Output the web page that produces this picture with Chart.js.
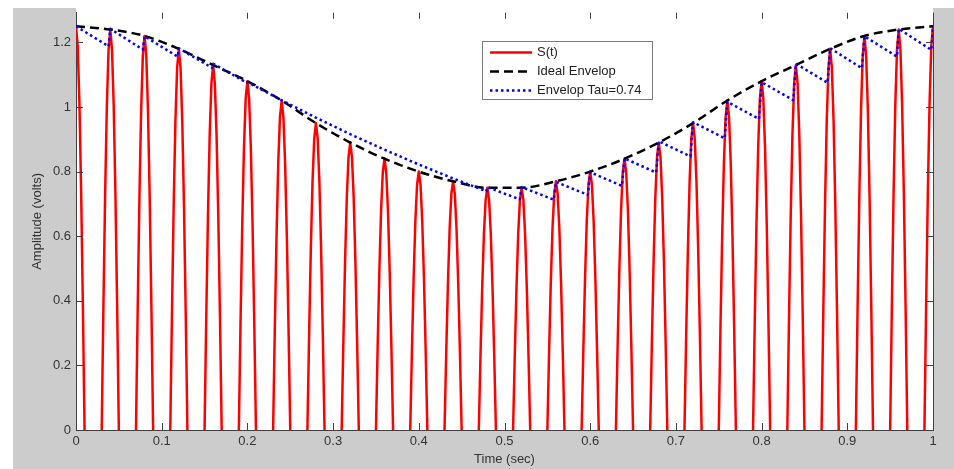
<!DOCTYPE html>
<html>
<head>
<meta charset="utf-8">
<script src="https://cdn.jsdelivr.net/npm/chart.js@4.4.1/dist/chart.umd.min.js"></script>
<style>
  html, body { margin: 0; padding: 0; background: #fff; }
</style>
</head>
<body>
<canvas id="envChart" width="954" height="469"></canvas>
<script>
// carrier peaks (sec) and envelope height at each peak
const peakTimes = [0, 0.04, 0.08, 0.12, 0.16, 0.2, 0.24, 0.28, 0.32, 0.36, 0.4, 0.44, 0.48,
                   0.52, 0.56, 0.6, 0.64, 0.68, 0.72, 0.76, 0.8, 0.84, 0.88, 0.92, 0.96, 1];
const envelope = [1.25, 1.24, 1.22, 1.18, 1.13, 1.08, 1.02, 0.95, 0.89, 0.84, 0.8, 0.77, 0.75,
                  0.75, 0.77, 0.8, 0.84, 0.89, 0.95, 1.02, 1.08, 1.13, 1.18, 1.22, 1.24, 1.25];

// shape of one lobe of S(t) around its peak
const lobeOffsets = [-0.01, -0.008, -0.006, -0.004, -0.002, 0, 0.002, 0.004, 0.006, 0.008, 0.01];
const lobeShape = [0, 0.31, 0.59, 0.81, 0.95, 1, 0.95, 0.81, 0.59, 0.31, 0];

// detector output, Tau = 0.74
const tauTimes = [0, 0.038, 0.04, 0.078, 0.08, 0.1186, 0.12, 0.159, 0.16, 0.1995, 0.2,
                  0.24, 0.28, 0.32, 0.36, 0.4, 0.44, 0.4788, 0.48, 0.5179, 0.52, 0.5576, 0.56,
                  0.5973, 0.6, 0.6371, 0.64, 0.677, 0.68, 0.717, 0.72, 0.757, 0.76, 0.797, 0.8,
                  0.837, 0.84, 0.877, 0.88, 0.917, 0.92, 0.958, 0.96, 0.998, 1];
const tauValues = [1.25, 1.188, 1.242, 1.178, 1.219, 1.156, 1.182, 1.121, 1.134, 1.075, 1.077,
                   1.021, 0.967, 0.916, 0.868, 0.822, 0.779, 0.739, 0.752, 0.714, 0.752, 0.713, 0.768,
                   0.728, 0.798, 0.756, 0.841, 0.797, 0.894, 0.847, 0.953, 0.903, 1.016, 0.963, 1.077,
                   1.021, 1.134, 1.075, 1.182, 1.12, 1.219, 1.156, 1.242, 1.177, 1.25];

const xTicks = [0, 0.1, 0.2, 0.3, 0.4, 0.5, 0.6, 0.7, 0.8, 0.9, 1];
const yTicks = [0, 0.2, 0.4, 0.6, 0.8, 1, 1.2];

const FONT = "'Liberation Sans', Arial, sans-serif";
const AXIS = '#404040';

const sPoints = [];
peakTimes.forEach((tk, i) => {
    lobeOffsets.forEach((dt, j) => {
        const t = +(tk + dt).toFixed(4);
        if (t < 0 || t > 1) return;
        sPoints.push({ x: t, y: envelope[i] * lobeShape[j] });
    });
    sPoints.push({ x: +(tk + 0.02).toFixed(4), y: null });
});

const matlabFrame = {
    id: 'matlabFrame',
    beforeDraw(chart) {
        const { ctx, chartArea: a, width, height } = chart;
        ctx.save();
        ctx.fillStyle = '#ffffff';
        ctx.fillRect(0, 0, width, height);
        ctx.fillStyle = '#cccccc';
        ctx.fillRect(13, 8, width - 13, height - 8);
        ctx.fillStyle = '#ffffff';
        ctx.fillRect(a.left, 0, a.right - a.left, a.bottom);
        ctx.restore();
    },
    afterDraw(chart) {
        const { ctx, chartArea: a, scales } = chart;
        ctx.save();
        ctx.strokeStyle = AXIS;
        ctx.lineWidth = 1;
        ctx.beginPath();
        // right edge of the box
        ctx.moveTo(Math.round(a.right) + 0.5, a.top);
        ctx.lineTo(Math.round(a.right) + 0.5, a.bottom);
        // inward ticks
        const tl = 7;
        xTicks.forEach(v => {
            const px = Math.round(scales.x.getPixelForValue(v)) + 0.5;
            ctx.moveTo(px, a.bottom); ctx.lineTo(px, a.bottom - tl);
            ctx.moveTo(px, a.top); ctx.lineTo(px, a.top + tl - 1);
        });
        yTicks.forEach(v => {
            const py = Math.round(scales.y.getPixelForValue(v)) + 0.5;
            ctx.moveTo(a.left, py); ctx.lineTo(a.left + tl, py);
            ctx.moveTo(a.right, py); ctx.lineTo(a.right - tl, py);
        });
        ctx.stroke();

        // legend box
        const bx = 482.5, by = 41.5, bw = 170, bh = 58;
        ctx.fillStyle = '#ffffff';
        ctx.fillRect(bx, by, bw, bh);
        ctx.strokeStyle = '#7a7a7a';
        ctx.strokeRect(bx, by, bw, bh);
        chart.data.datasets.forEach((ds, i) => {
            const y = 52.5 + i * 19;
            ctx.strokeStyle = ds.borderColor;
            ctx.lineWidth = ds.borderWidth;
            ctx.setLineDash(ds.borderDash || []);
            ctx.beginPath();
            ctx.moveTo(490, y);
            ctx.lineTo(532, y);
            ctx.stroke();
            ctx.setLineDash([]);
            ctx.fillStyle = '#222';
            ctx.font = '13px ' + FONT;
            ctx.textBaseline = 'middle';
            ctx.fillText(ds.label, 537, y);
        });
        ctx.restore();
    }
};

new Chart(document.getElementById('envChart').getContext('2d'), {
    type: 'line',
    data: {
        datasets: [{
            label: 'S(t)',
            data: sPoints,
            borderColor: '#ff0000',
            borderWidth: 2.5,
            borderJoinStyle: 'round',
            borderCapStyle: 'round',
            pointRadius: 0,
            tension: 0,
            spanGaps: false,
            order: 3
        }, {
            label: 'Ideal Envelop',
            data: peakTimes.map((t, i) => ({ x: t, y: envelope[i] })),
            borderColor: '#000000',
            borderWidth: 2.5,
            borderDash: [9, 5],
            pointRadius: 0,
            cubicInterpolationMode: 'monotone',
            order: 2
        }, {
            label: 'Envelop Tau=0.74',
            data: tauTimes.map((t, i) => ({ x: t, y: tauValues[i] })),
            borderColor: '#0000ff',
            borderWidth: 2.5,
            borderDash: [2.5, 3],
            borderJoinStyle: 'round',
            pointRadius: 0,
            tension: 0,
            order: 1
        }]
    },
    options: {
        responsive: false,
        animation: false,
        layout: { padding: { left: 0, right: 21, top: 8, bottom: 0 } },
        plugins: {
            legend: { display: false },
            tooltip: { enabled: false }
        },
        scales: {
            x: {
                type: 'linear',
                min: 0,
                max: 1,
                grid: { display: true, drawOnChartArea: false, drawTicks: false },
                border: { color: AXIS, width: 1 },
                afterBuildTicks: s => { s.ticks = xTicks.map(v => ({ value: v })); },
                afterFit: s => { s.height = 39; },
                ticks: {
                    padding: 4,
                    color: '#333',
                    font: { family: FONT, size: 13 },
                    callback: v => String(v)
                },
                title: {
                    display: true,
                    text: 'Time (sec)',
                    color: '#333',
                    font: { family: FONT, size: 13 },
                    padding: { top: 0, bottom: 2 }
                }
            },
            y: {
                min: 0,
                max: 1.2917,
                grid: { display: true, drawOnChartArea: false, drawTicks: false },
                border: { color: AXIS, width: 1 },
                afterBuildTicks: s => { s.ticks = yTicks.map(v => ({ value: v })); },
                afterFit: s => { s.width = 76; },
                ticks: {
                    padding: 5,
                    color: '#333',
                    font: { family: FONT, size: 13 },
                    callback: v => String(v)
                },
                title: {
                    display: true,
                    text: 'Amplitude (volts)',
                    color: '#333',
                    font: { family: FONT, size: 13 },
                    padding: { top: 30, bottom: 0 }
                }
            }
        }
    },
    plugins: [matlabFrame]
});
</script>
</body>
</html>
